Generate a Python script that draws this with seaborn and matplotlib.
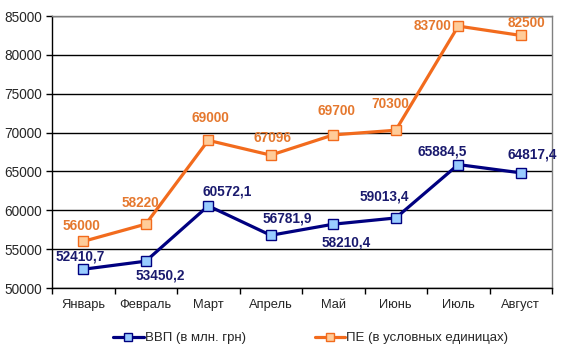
import matplotlib
matplotlib.use("Agg")
import matplotlib.pyplot as plt
import seaborn as sns
import pandas as pd
from matplotlib.ticker import FixedLocator

months = ["Январь", "Февраль", "Март", "Апрель", "Май", "Июнь", "Июль", "Август"]
gdp = [52410.7, 53450.2, 60572.1, 56781.9, 58210.4, 59013.4, 65884.5, 64817.4]
pe = [56000, 58220, 69000, 67096, 69700, 70300, 83700, 82500]
gdp_labels = ["52410,7", "53450,2", "60572,1", "56781,9", "58210,4", "59013,4", "65884,5", "64817,4"]
pe_labels = ["56000", "58220", "69000", "67096", "69700", "70300", "83700", "82500"]
series_names = ["ВВП (в млн. грн)", "ПЕ (в условных единицах)"]

# label offsets in pixels (dx, dy)
gdp_off = [(-3, 13), (15, -14), (19, 14), (17, 17), (13, -18), (-11, 21), (-16, 13), (11, 18)]
pe_off = [(-2, 15), (-5, 21), (2, 22), (2, 17), (3, 24), (-6, 26), (-26, 0), (6, 12)]

sns.set_theme(style="white")
plt.rcParams["font.family"] = ["Liberation Sans", "DejaVu Sans"]

df = pd.DataFrame({
    "month": months * 2,
    "value": gdp + pe,
    "series": [series_names[0]] * len(months) + [series_names[1]] * len(months),
})

fig = plt.figure(figsize=(5.62, 3.51), dpi=100)
ax = fig.add_axes([52 / 562, 1 - 288 / 351, 500 / 562, 272 / 351])

navy = "#000080"
orange = "#F26B1D"
styles = {
    series_names[0]: dict(color=navy, mfc="#99CCFF", mec=navy),
    series_names[1]: dict(color=orange, mfc="#FFCC99", mec=orange),
}
handles = []
for name in series_names:
    st = styles[name]
    sub = df[df["series"] == name]
    sns.lineplot(data=sub, x="month", y="value", ax=ax, color=st["color"], lw=2.3,
                 marker="s", markersize=7.5, markerfacecolor=st["mfc"],
                 markeredgecolor=st["mec"], markeredgewidth=1.0, sort=False, legend=False)
    handles.append(ax.lines[-1])

for i, (v, lab, off) in enumerate(zip(gdp, gdp_labels, gdp_off)):
    ax.annotate(lab, (i, v), xytext=off, textcoords="offset pixels", ha="center", va="center",
                fontsize=9.8, fontweight="bold", color="#1A1A6E")
for i, (v, lab, off) in enumerate(zip(pe, pe_labels, pe_off)):
    ax.annotate(lab, (i, v), xytext=off, textcoords="offset pixels", ha="center", va="center",
                fontsize=9.8, fontweight="bold", color="#E5782E")

ax.set_xlim(-0.5, len(months) - 0.5)
ax.set_ylim(50000, 85000)
ax.set_yticks(range(50000, 85001, 5000))
ax.set_yticklabels([str(t) for t in range(50000, 85001, 5000)], fontsize=9.8)
ax.set_xticks(range(len(months)))
ax.set_xticklabels(months, fontsize=9.3)
ax.xaxis.set_minor_locator(FixedLocator([i - 0.5 for i in range(len(months) + 1)]))
ax.tick_params(axis="x", which="major", length=0, pad=8)
ax.tick_params(axis="x", which="minor", length=4, width=1, color="black", direction="out", bottom=True)
ax.tick_params(axis="y", length=4, width=1, color="black", direction="out", left=True, pad=3)
ax.set_xlabel("")
ax.set_ylabel("")
ax.yaxis.grid(True, color="black", lw=1)
ax.xaxis.grid(False)
ax.set_axisbelow(True)
for s in ["left", "bottom"]:
    ax.spines[s].set_color("black")
    ax.spines[s].set_linewidth(1)
for s in ["top", "right"]:
    ax.spines[s].set_color("#808080")
    ax.spines[s].set_linewidth(1)

fig.legend(handles, series_names, loc="center", bbox_to_anchor=(0.553, 1 - 338 / 351), ncol=2,
           frameon=False, fontsize=9.5, handlelength=2.3, columnspacing=5.2, handletextpad=0.1,
           markerscale=0.85)

fig.savefig("out.png", dpi=100)
